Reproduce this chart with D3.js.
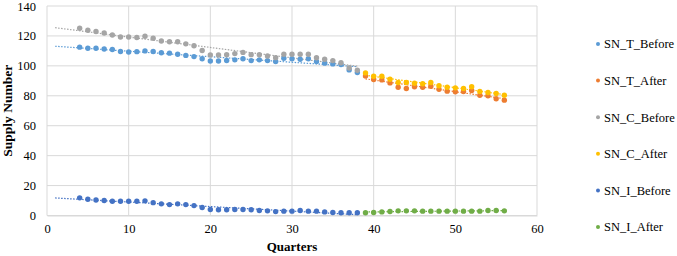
<!DOCTYPE html>
<html><head><meta charset="utf-8">
<script src="https://cdn.jsdelivr.net/npm/d3@7"></script>
<style>body{margin:0;background:#fff;}svg{display:block;}</style>
</head><body>
<svg id="c" width="677" height="256"></svg>
<script>
const quartersBefore = [4,5,6,7,8,9,10,11,12,13,14,15,16,17,18,19,20,21,22,23,24,25,26,27,28,29,30,31,32,33,34,35,36,37,38];
const quartersAfter = [39,40,41,42,43,44,45,46,47,48,49,50,51,52,53,54,55,56];
const snTBefore = [112.5,111.8,111.8,111.3,110.9,109.6,109.3,109.5,110,109.6,108.8,108.5,107.8,107,106.2,104.7,103.2,103.2,103.6,104,104.7,103.5,104,103.5,102.9,105.1,104.7,104.4,104.7,102.9,101.8,101.3,100.9,97.3,95.5];
const snTAfter = [93.3,90.9,90.6,88.6,85.7,84.9,86,85.7,86.4,84.4,83.1,82.7,82.9,83.5,80.4,80,78,77.1];
const snCBefore = [125.1,123.8,123,122,120.6,119.3,119.3,118.9,119.8,118.4,116.6,116.1,116.1,114.7,113.4,110.3,107.3,107.3,107.4,108.2,109,107.5,107.4,106.6,105.5,107.8,107.8,107.8,107.8,105.4,104.4,103.5,102.1,98.6,97.1];
const snCAfter = [95.3,93.1,93.1,91.1,88.9,88.9,88.4,88,88.9,86.7,85.7,85.3,84.9,86,82.9,82.2,81.5,80.4];
const snIBefore = [11.8,10.9,10.4,10,9.5,9.5,9.5,9.5,9.8,8.6,7.8,7.3,7.8,7.3,6.6,5.3,4,3.8,3.8,4,4,3.8,3.3,3.1,2.6,2.9,2.9,3.3,2.9,2.9,2.4,2,1.8,1.8,1.8];
const snIAfter = [1.8,2,2.4,2.7,3.1,3.1,3.1,2.9,2.9,2.9,2.9,2.9,2.9,2.9,2.9,3.3,3.3,3.1];
const xTicks = [0,10,20,30,40,50,60];
const yTicks = [0,20,40,60,80,100,120,140];
const seriesNames = ["SN_T_Before","SN_T_After","SN_C_Before","SN_C_After","SN_I_Before","SN_I_After"];
const seriesColors = ["#5B9BD5","#ED7D31","#A5A5A5","#FFC000","#4472C4","#70AD47"];

const series = [
  {name:seriesNames[0], xs:quartersBefore, ys:snTBefore, color:seriesColors[0], back:3},
  {name:seriesNames[1], xs:quartersAfter, ys:snTAfter, color:seriesColors[1], back:0},
  {name:seriesNames[2], xs:quartersBefore, ys:snCBefore, color:seriesColors[2], back:3},
  {name:seriesNames[3], xs:quartersAfter, ys:snCAfter, color:seriesColors[3], back:0},
  {name:seriesNames[4], xs:quartersBefore, ys:snIBefore, color:seriesColors[4], back:3},
  {name:seriesNames[5], xs:quartersAfter, ys:snIAfter, color:seriesColors[5], back:0}
];

const svg = d3.select("#c");
const font = "'Liberation Serif','Times New Roman',serif";
const x = d3.scaleLinear().domain([0,60]).range([47,537]);
const y = d3.scaleLinear().domain([0,140]).range([215.5,6]);

// gridlines
svg.append("g").selectAll("line").data(yTicks).join("line")
  .attr("x1",x(0)).attr("x2",x(60)).attr("y1",d=>y(d)).attr("y2",d=>y(d))
  .attr("stroke","#D9D9D9").attr("stroke-width",1);
svg.append("g").selectAll("line").data(xTicks).join("line")
  .attr("x1",d=>x(d)).attr("x2",d=>x(d)).attr("y1",y(0)).attr("y2",y(140))
  .attr("stroke","#D9D9D9").attr("stroke-width",1);

// axes
const xAxis = d3.axisBottom(x).tickValues(xTicks).tickSize(0).tickPadding(9);
const gx = svg.append("g").attr("transform",`translate(0,${y(0)})`).call(xAxis);
gx.select(".domain").attr("stroke","#D9D9D9");
gx.selectAll("text").attr("font-family",font).attr("font-size",12.5).attr("fill","#000");
const yAxis = d3.axisLeft(y).tickValues(yTicks).tickSize(0).tickPadding(11);
const gy = svg.append("g").attr("transform",`translate(${x(0)},0)`).call(yAxis);
gy.select(".domain").remove();
gy.selectAll("text").attr("font-family",font).attr("font-size",12.5).attr("fill","#000");

// trendlines
series.forEach(s=>{
  const n = s.xs.length;
  const mx = d3.mean(s.xs), my = d3.mean(s.ys);
  let num=0, den=0;
  for(let i=0;i<n;i++){num+=(s.xs[i]-mx)*(s.ys[i]-my);den+=(s.xs[i]-mx)**2;}
  const b = num/den, a = my-b*mx;
  const x0 = s.xs[0]-s.back, x1 = s.xs[n-1];
  svg.append("line").attr("x1",x(x0)).attr("x2",x(x1))
    .attr("y1",y(a+b*x0)).attr("y2",y(a+b*x1))
    .attr("stroke",s.color).attr("stroke-width",1.2).attr("stroke-dasharray","1.5,1.5");
});

// points
series.forEach(s=>{
  svg.append("g").selectAll("circle").data(s.xs.map((q,i)=>[q,s.ys[i]])).join("circle")
    .attr("cx",d=>x(d[0])).attr("cy",d=>y(d[1])).attr("r",2.7).attr("fill",s.color);
});

// axis titles
svg.append("text").attr("x",(x(0)+x(60))/2).attr("y",251).attr("text-anchor","middle")
  .attr("font-family",font).attr("font-size",13).attr("font-weight","bold").text("Quarters");
svg.append("text").attr("transform",`translate(12,${(y(0)+y(140))/2}) rotate(-90)`).attr("text-anchor","middle")
  .attr("font-family",font).attr("font-size",13.5).attr("font-weight","bold").text("Supply Number");

// legend
const lg = svg.append("g");
series.forEach((s,i)=>{
  const yy = 44 + i*36.6;
  lg.append("circle").attr("cx",598).attr("cy",yy).attr("r",2).attr("fill",s.color);
  lg.append("text").attr("x",604).attr("y",yy).attr("dy","0.35em")
    .attr("font-family",font).attr("font-size",12.5).attr("fill","#000").text(s.name);
});
</script>
</body></html>
